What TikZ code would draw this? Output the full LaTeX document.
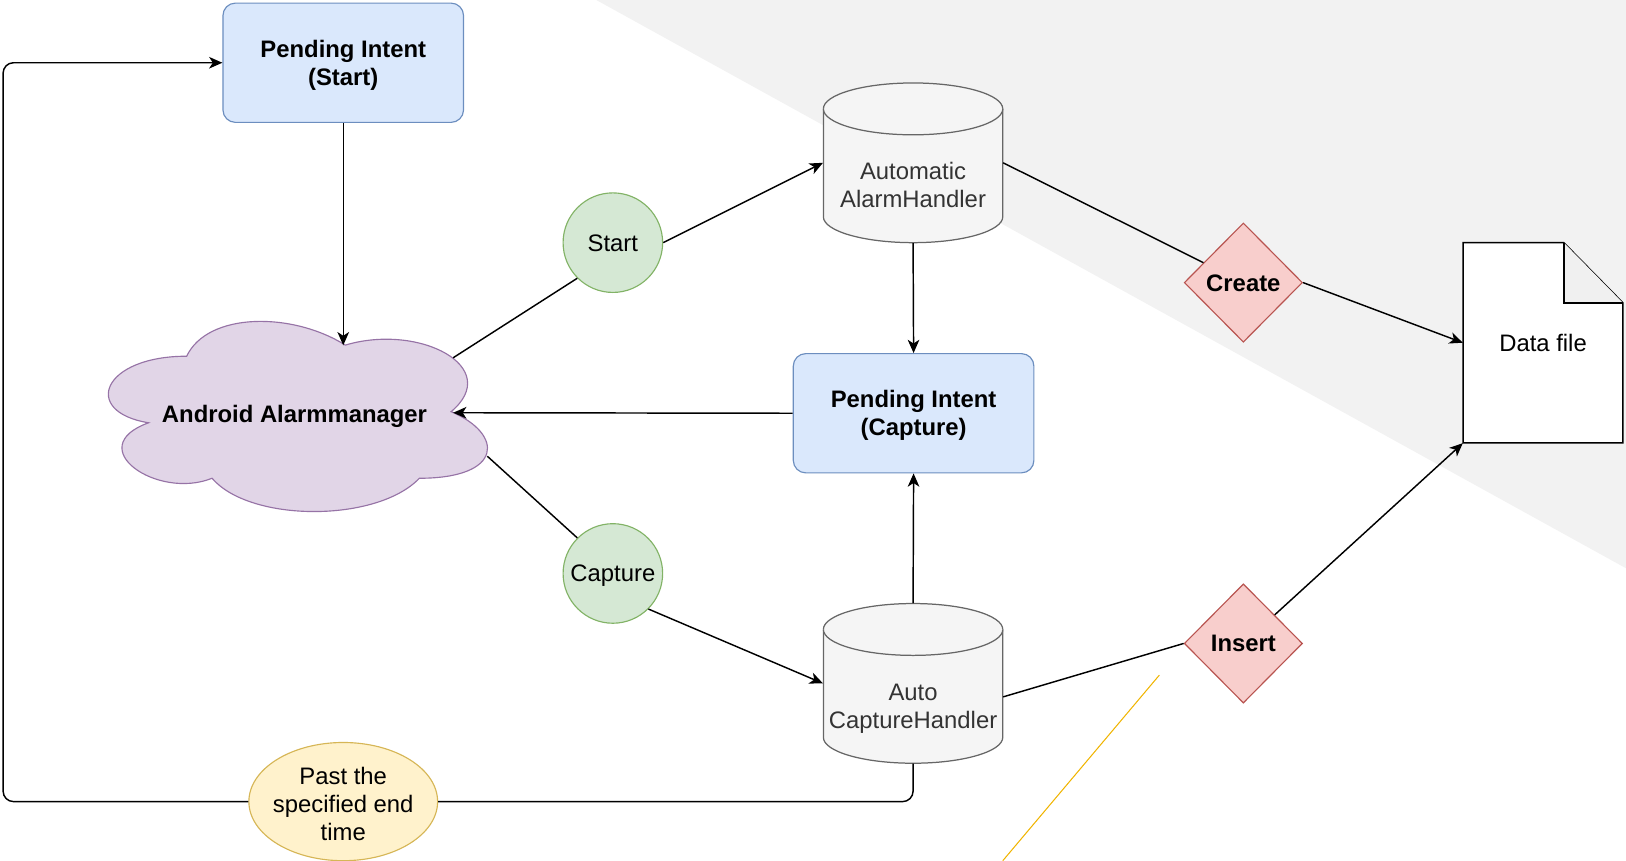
\documentclass[tikz,border=0pt]{standalone}
\usepackage{fontspec}
\setmainfont{Liberation Sans}
\usetikzlibrary{arrows.meta,shapes.geometric,calc}
\definecolor{bgg}{RGB}{242,242,242}
\definecolor{bluefill}{HTML}{DAE8FC}
\definecolor{bluestroke}{HTML}{6C8EBF}
\definecolor{purpfill}{HTML}{E1D5E7}
\definecolor{purpstroke}{HTML}{9673A6}
\definecolor{greenfill}{HTML}{D5E8D4}
\definecolor{greenstroke}{HTML}{82B366}
\definecolor{cylfill}{HTML}{F5F5F5}
\definecolor{cylstroke}{HTML}{666666}
\definecolor{cyltextc}{HTML}{333333}
\definecolor{redfill}{HTML}{F8CECC}
\definecolor{redstroke}{HTML}{B85450}
\definecolor{yelfill}{HTML}{FFF2CC}
\definecolor{yelstroke}{HTML}{D6B656}
\definecolor{amber}{RGB}{240,180,0}
\definecolor{foldg}{RGB}{240,240,240}
\newcommand{\drawcyl}[2]{%
  \filldraw[cylsty] (#1,#2+25) -- (#1,#2+129)
    arc[start angle=180,end angle=360,x radius=43.25pt,y radius=12.5pt]
    -- (#1+173,#2+25)
    arc[start angle=0,end angle=180,x radius=43.25pt,y radius=12.5pt] -- cycle;
  \draw[cylsty] (#1,#2+25) arc[start angle=180,end angle=360,x radius=43.25pt,y radius=12.5pt];}
\newcommand{\topstrut}{\rule{0pt}{11.2pt}}
\newcommand{\botstrut}{\rule[-3pt]{0pt}{3pt}}
\begin{document}
\begin{tikzpicture}[x=0.5pt,y=-0.5pt,
  every node/.style={font=\fontsize{11.5}{13.5}\selectfont, align=center, inner sep=0pt},
  conn/.style={line width=0.7pt, black},
  arr/.style={conn, -{Stealth[length=6.4pt,width=5.6pt,inset=1.8pt]}},
  bluebox/.style={rectangle, rounded corners=6pt, draw=bluestroke, fill=bluefill, line width=0.55pt, minimum width=116pt, minimum height=57.5pt},
  greencirc/.style={circle, draw=greenstroke, fill=greenfill, line width=0.55pt, minimum size=48pt},
  reddiam/.style={diamond, aspect=1, draw=redstroke, fill=redfill, line width=0.55pt, minimum width=57pt, minimum height=57.5pt},
  cylsty/.style={draw=cylstroke, fill=cylfill, line width=0.6pt},
  cylbox/.style={rectangle, minimum width=86.5pt, minimum height=77pt},
  cyltext/.style={text=cyltextc},
  notesty/.style={draw=black, fill=white, line width=0.7pt},
  yelell/.style={ellipse, draw=yelstroke, fill=yelfill, line width=0.55pt, minimum width=91pt, minimum height=57pt, inner xsep=-5pt, inner ysep=-2pt},
]
\useasboundingbox (0,0) rectangle (1568,830);
% background
\fill[bgg] (575,0) -- (1568,0) -- (1568,548) -- cycle;
\draw[amber, line width=0.5pt] (1118,651) -- (967,830);

% cloud
\begin{scope}[shift={(78,290)}, xscale=408, yscale=214]
\filldraw[draw=purpstroke, fill=purpfill, line width=0.55pt]
  (0.25,0.25) .. controls (0.05,0.25) and (0,0.5) .. (0.16,0.55)
  .. controls (0,0.66) and (0.18,0.9) .. (0.31,0.8)
  .. controls (0.4,1) and (0.7,1) .. (0.8,0.8)
  .. controls (1,0.8) and (1,0.6) .. (0.875,0.5)
  .. controls (1,0.3) and (0.8,0.1) .. (0.625,0.2)
  .. controls (0.5,0.05) and (0.3,0.05) .. (0.25,0.25) -- cycle;
\end{scope}
\node (cloud) at (284,399) {\topstrut\textbf{Android Alarmmanager}\botstrut};
\coordinate (cloudTop) at (331,333);
\coordinate (cloudRight) at (437,398);
\coordinate (cloudNE) at (437,345);
\coordinate (cloudSE) at (470,440);

% cylinders
\drawcyl{794}{80}
\drawcyl{794}{582}
\node[cylbox] (ah) at (880.5,157) {};
\node[cyltext] (ahtxt) at (880.5,178.5) {\topstrut Automatic\\AlarmHandler\botstrut};
\node[cylbox] (ch) at (880.5,659) {};
\node[cyltext] (chtxt) at (880.5,680.5) {\topstrut Auto\\CaptureHandler\botstrut};

% data file
\filldraw[notesty] (1411,234) -- (1508,234) -- (1565,292) -- (1565,427) -- (1411,427) -- cycle;
\filldraw[notesty, fill=foldg] (1508,234) -- (1508,292) -- (1565,292);
\node[rectangle, minimum width=77pt, minimum height=96.5pt] (data) at (1488,330.5) {\topstrut Data file\botstrut};

% boxes
\node[bluebox] (pis) at (331,60.5) {\topstrut\textbf{Pending Intent}\\\textbf{(Start)}\botstrut};
\node[bluebox] (pic) at (881,398.5) {\topstrut\textbf{Pending Intent}\\\textbf{(Capture)}\botstrut};
\node[greencirc] (start) at (591,234) {\topstrut Start\botstrut};
\node[greencirc] (capture) at (591,553) {\topstrut Capture\botstrut};
\node[reddiam] (create) at (1199,272.5) {\topstrut\textbf{Create}\botstrut};
\node[reddiam] (insert) at (1199,620.5) {\topstrut\textbf{Insert}\botstrut};
\node[yelell] (past) at (331,773) {\rule{0pt}{13.2pt}Past the\\specified end\\time\botstrut};
\coordinate (loopL) at (3,773);

% connectors
\draw[arr] (pis.south) -- (cloudTop);
\draw[conn] (cloudNE) -- (start.south west);
\draw[arr] (start.east) -- (ah.west);
\draw[arr] (ah.south) -- (pic.north);
\draw[arr] (pic.west) -- (cloudRight);
\draw[conn] (cloudSE) -- (capture.north west);
\draw[arr] (capture.south east) -- (ch.west);
\draw[arr] (ch.north) -- (pic.south);
\draw[conn] (ah.east) -- (create);
\draw[arr] (create.east) -- (data.west);
\draw[conn] ($(ch.east)+(0,13)$) -- (insert.west);
\draw[arr] (insert) -- (data.south west);
\draw[conn, rounded corners=5pt] (ch.south) |- (past.east);
\draw[arr, rounded corners=5pt] (past.west) -- (loopL) |- (pis.west);
\end{tikzpicture}
\end{document}
